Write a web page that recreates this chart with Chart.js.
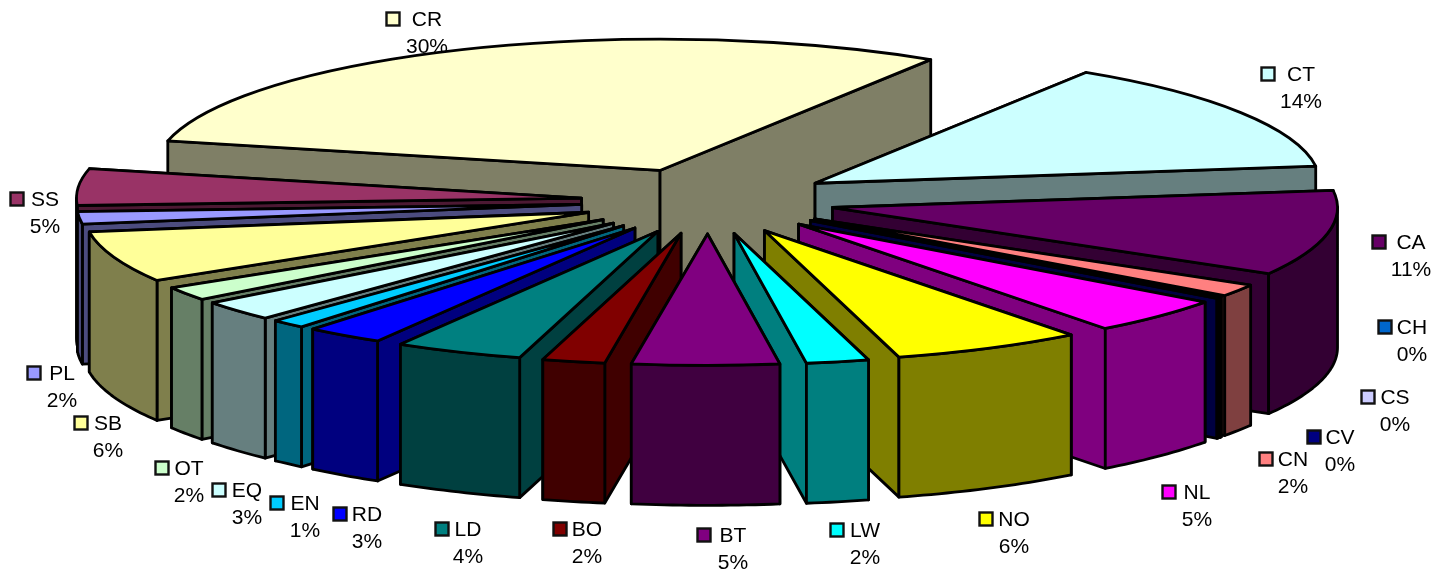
<!DOCTYPE html>
<html lang="en">
<head>
  <meta charset="UTF-8" />
  <title>Share by code</title>
  <style>
    body { margin: 0; background: #fff; }
    canvas { display: block; }
  </style>
</head>
<body>
  <canvas id="chart" width="1437" height="572"></canvas>

  <script src="https://cdn.jsdelivr.net/npm/chart.js@4"></script>
  <script>
    const codes = ['CR','CT','CA','CN','CH','CS','CV','NL','NO','LW','BT','BO','LD','RD','EN','EQ','OT','SB','PL','SS'];
    const shares = [30.4,13.9,10.5,1.5,0.05,0.05,0.1,4.5,6.1,2.0,4.7,2.0,4.1,2.5,1.1,2.5,1.7,6.3,1.5,4.5];
    const colors = ['#FFFFCC','#CCFFFF','#660066','#FF8080','#0066CC','#CCCCFF','#000080','#FF00FF','#FFFF00','#00FFFF',
                    '#800080','#800000','#008080','#0000FF','#00CCFF','#CCFFFF','#CCFFCC','#FFFF99','#9999FF','#993366'];

    // label layout: text centre x, name line y, key square centre x
    const labelSpots = [
      [427,19,393],[1301,74,1268],[1411,242,1379],[1293,459,1266],[1412,327,1385],
      [1395,397,1368],[1340,437,1314],[1197,492,1169],[1014,519,986],[865,530,837],
      [733,535,704],[587,529,560],[468,529,442],[367,514,340],[305,503,277],
      [247,490,219],[189,468,162],[108,423,81],[62,373,34],[45,199,17]
    ];

    const TILT = 0.26;      // vertical squash of the pie plane
    const DEPTH = 140;      // height of the extruded side walls
    const EXPLODE = 127;    // how far each slice is pulled out
    const EDGE = 2.8;

    function darker(hex) {
      const n = parseInt(hex.slice(1), 16);
      const ch = s => ((n >> s) & 255) >> 1;
      return `rgb(${ch(16)},${ch(8)},${ch(0)})`;
    }

    // screen position of a point on a slice's top face
    function topPoint(arc, angle, r) {
      const mid = (arc.startAngle + arc.endAngle) / 2;
      return {
        x: arc.x + EXPLODE * Math.cos(mid) + r * Math.cos(angle),
        y: arc.y + TILT * (EXPLODE * Math.sin(mid) + r * Math.sin(angle))
      };
    }

    function drawRadialWall(ctx, arc, angle, fill) {
      const a = topPoint(arc, angle, 0);
      const b = topPoint(arc, angle, arc.outerRadius);
      ctx.beginPath();
      ctx.moveTo(a.x, a.y);
      ctx.lineTo(b.x, b.y);
      ctx.lineTo(b.x, b.y + DEPTH);
      ctx.lineTo(a.x, a.y + DEPTH);
      ctx.closePath();
      ctx.fillStyle = fill;
      ctx.fill();
      ctx.stroke();
    }

    // curved outer wall, only the part that faces the viewer
    function drawOuterWall(ctx, arc, fill) {
      const TAU = Math.PI * 2;
      let s = arc.startAngle % TAU;
      if (s < 0) s += TAU;
      const e = s + (arc.endAngle - arc.startAngle);
      [[0, Math.PI], [TAU, TAU + Math.PI]].forEach(([lo, hi]) => {
        const from = Math.max(s, lo), to = Math.min(e, hi);
        if (to <= from) return;
        const steps = Math.max(2, Math.ceil((to - from) * 60));
        ctx.beginPath();
        for (let i = 0; i <= steps; i++) {
          const p = topPoint(arc, from + (to - from) * i / steps, arc.outerRadius);
          i ? ctx.lineTo(p.x, p.y) : ctx.moveTo(p.x, p.y);
        }
        for (let i = steps; i >= 0; i--) {
          const p = topPoint(arc, from + (to - from) * i / steps, arc.outerRadius);
          ctx.lineTo(p.x, p.y + DEPTH);
        }
        ctx.closePath();
        ctx.fillStyle = fill;
        ctx.fill();
        ctx.stroke();
      });
    }

    function drawTop(ctx, arc) {
      const mid = (arc.startAngle + arc.endAngle) / 2;
      ctx.save();
      ctx.translate(arc.x, arc.y);
      ctx.scale(1, TILT);
      ctx.translate(-arc.x + EXPLODE * Math.cos(mid), -arc.y + EXPLODE * Math.sin(mid));
      arc.draw(ctx);
      ctx.beginPath();
      ctx.moveTo(arc.x, arc.y);
      ctx.arc(arc.x, arc.y, arc.outerRadius, arc.startAngle, arc.endAngle);
      ctx.closePath();
      ctx.restore();   // stroke outside the squash so the edge stays even
      ctx.stroke();
    }

    const pie3d = {
      id: 'pie3d',
      beforeDatasetDraw(chart, args) {
        const ctx = chart.ctx;
        const arcs = args.meta.data.slice();
        // back slices first
        arcs.sort((p, q) => Math.sin((p.startAngle + p.endAngle) / 2) - Math.sin((q.startAngle + q.endAngle) / 2));
        ctx.save();
        ctx.strokeStyle = '#000';
        ctx.lineWidth = EDGE;
        ctx.lineJoin = 'round';
        arcs.forEach(arc => {
          const side = darker(arc.options.backgroundColor);
          const walls = [arc.startAngle, arc.endAngle].sort((a, b) => Math.sin(a) - Math.sin(b));
          walls.forEach(a => drawRadialWall(ctx, arc, a, side));
          drawOuterWall(ctx, arc, side);
          drawTop(ctx, arc);
        });
        ctx.restore();
        return false;
      },
      afterDraw(chart) {
        const ctx = chart.ctx;
        ctx.save();
        ctx.font = '21px "Liberation Sans", Arial, sans-serif';
        ctx.textAlign = 'center';
        ctx.textBaseline = 'middle';
        codes.forEach((code, i) => {
          const [tx, y, sx] = labelSpots[i];
          ctx.fillStyle = colors[i];
          ctx.strokeStyle = '#111';
          ctx.lineWidth = 2.4;
          ctx.fillRect(sx - 6.5, y - 6.5, 13, 13);
          ctx.strokeRect(sx - 6.5, y - 6.5, 13, 13);
          ctx.fillStyle = '#000';
          ctx.fillText(code, tx, y + 1);
          ctx.fillText(Math.round(shares[i]) + '%', tx, y + 28);
        });
        ctx.restore();
      }
    };

    new Chart(document.getElementById('chart'), {
      type: 'pie',
      data: {
        labels: codes,
        datasets: [{ data: shares, backgroundColor: colors, borderWidth: 0 }]
      },
      options: {
        responsive: false,
        animation: false,
        rotation: -77,
        radius: 505,
        layout: { padding: { right: 21, bottom: 170 } },
        plugins: { legend: { display: false }, tooltip: { enabled: false } }
      },
      plugins: [pie3d]
    });
  </script>
</body>
</html>
